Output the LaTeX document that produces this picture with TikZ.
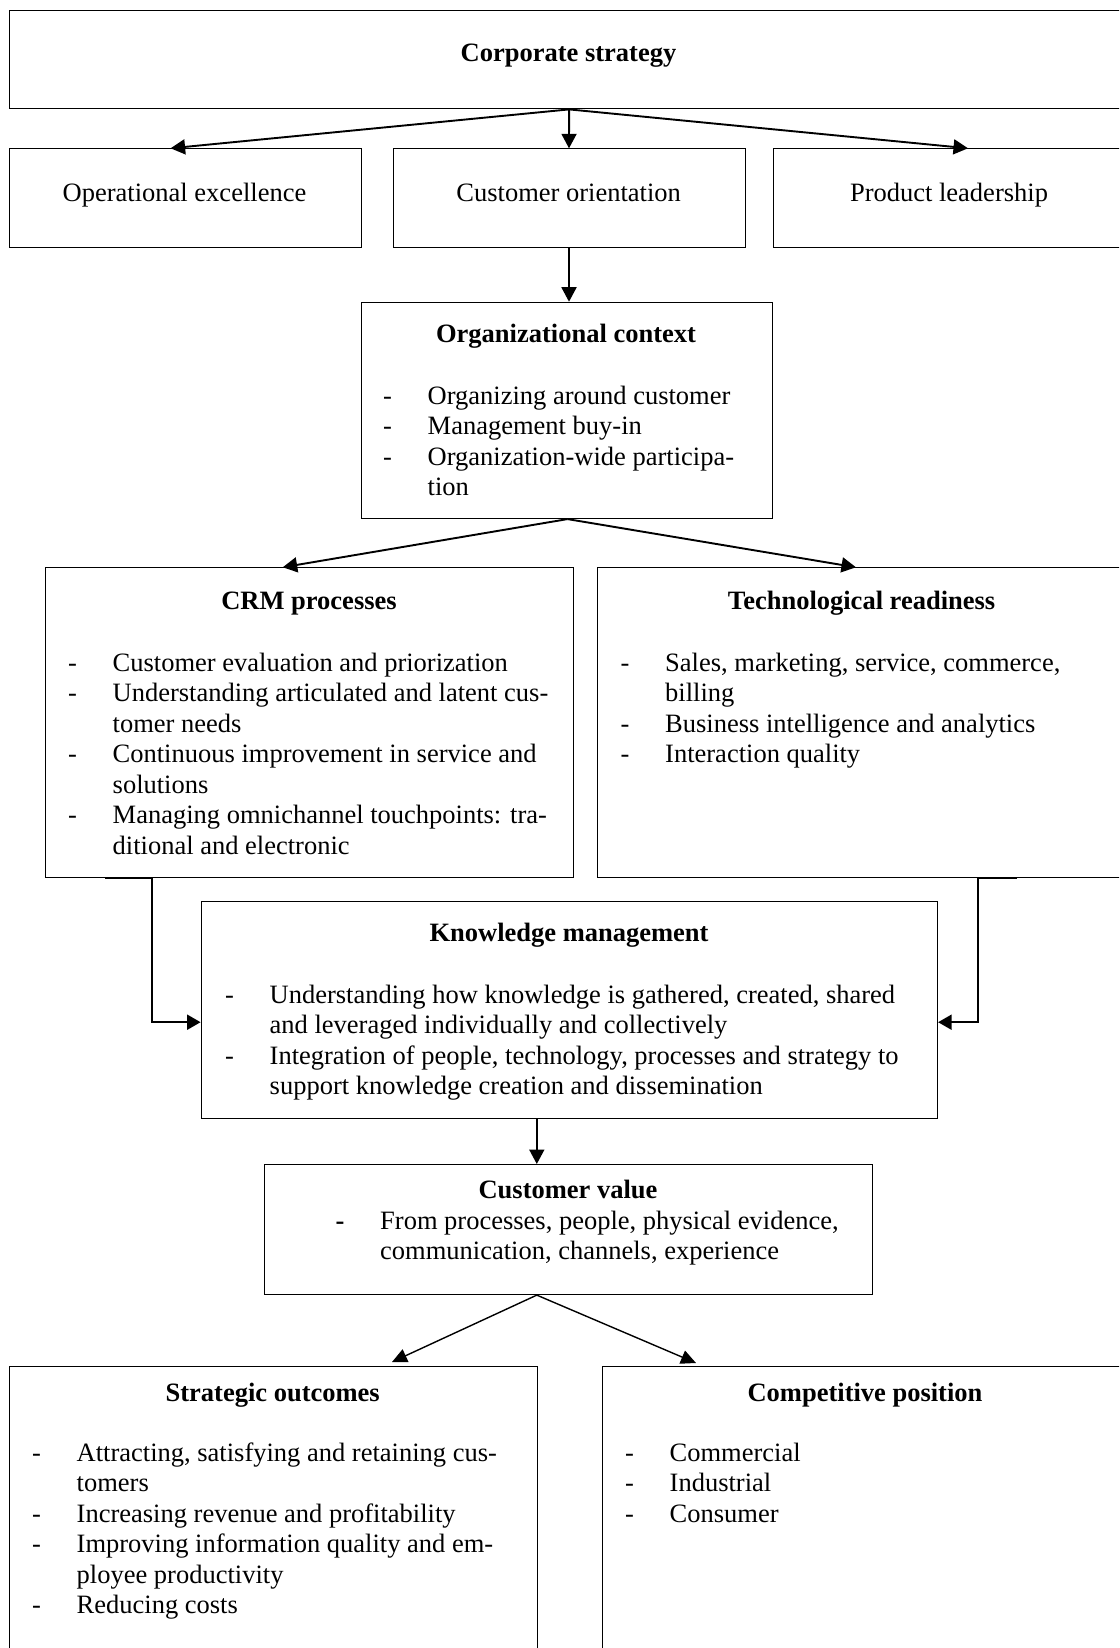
\documentclass[tikz,border=0pt]{standalone}
\usepackage{fontspec}
\setmainfont{Liberation Serif}
\usetikzlibrary{arrows.meta,calc}
\newcommand{\lst}[1]{\begin{tabular}[t]{@{}p{44.5pt}@{}l@{}}#1\end{tabular}}
\begin{document}
\fontsize{26.5}{30.5}\selectfont
\begin{tikzpicture}[x=1pt,y=-1pt,
  box/.style={draw, line width=1.1pt, anchor=north west, inner sep=0pt, rectangle},
  ttl/.style={anchor=base, inner sep=0pt, font=\bfseries},
  txt/.style={anchor=base, inner sep=0pt},
  items/.style={anchor=base west, inner sep=0pt},
  arr/.style={line width=1.9pt, -{Triangle[length=14.5pt,width=15pt]}},
  arrb/.style={line width=1.4pt, -{Triangle[length=15pt,width=14pt]}},
  elbow/.style={line width=1.9pt, -{Triangle[length=13.5pt,width=15pt]}}
]
\useasboundingbox (0,0) rectangle (1119,1648);
\clip (0,0) rectangle (1119,1648);

% boxes
\node[box, minimum width=1120pt, minimum height=98.3pt] (cs) at (8.6,10) {};
\node[box, minimum width=352pt, minimum height=98.4pt] (oe) at (8.6,148.3) {};
\node[box, minimum width=351.5pt, minimum height=98.4pt] (co) at (393,148.3) {};
\node[box, minimum width=352pt, minimum height=98.4pt] (pl) at (773,148.3) {};
\node[box, minimum width=411pt, minimum height=216.3pt] (oc) at (360.5,301.7) {};
\node[box, minimum width=528pt, minimum height=310pt] (crm) at (45,567.3) {};
\node[box, minimum width=531pt, minimum height=310pt] (tr) at (596.7,567.3) {};
\node[box, minimum width=736.4pt, minimum height=217pt] (km) at (200.6,900.7) {};
\node[box, minimum width=608.2pt, minimum height=130pt] (cv) at (264,1164) {};
\node[box, minimum width=528.2pt, minimum height=300pt] (so) at (8.6,1366) {};
\node[box, minimum width=527pt, minimum height=300pt] (cp) at (601.7,1366) {};

% texts
\node[ttl] (cst) at (568.5,62) {Corporate strategy};
\node[txt] (oet) at (184.5,201.7) {Operational excellence};
\node[txt] (cot) at (568.7,201.7) {Customer orientation};
\node[txt] (plt) at (949,201.7) {Product leadership};

\node[ttl] (oct) at (566,342.7) {Organizational context};
\node[items] (oci) at (383,404) {\lst{- & Organizing around customer\\
- & Management buy-in\\
- & Organization-wide participa-\\
 & tion}};

\node[ttl] (crmt) at (309,609) {CRM processes};
\node[items] (crmi) at (68,671) {\lst{- & Customer evaluation and priorization\\
- & Understanding articulated and latent cus-\\
 & tomer needs\\
- & Continuous improvement in service and\\
 & solutions\\
- & Managing omnichannel touchpoints: tra-\\
 & ditional and electronic}};

\node[ttl] (trt) at (861.6,609) {Technological readiness};
\node[items] (tri) at (620.5,671) {\lst{- & Sales, marketing, service, commerce,\\
 & billing\\
- & Business intelligence and analytics\\
- & Interaction quality}};

\node[ttl] (kmt) at (569,941.7) {Knowledge management};
\node[items] (kmi) at (225,1003.3) {\lst{- & Understanding how knowledge is gathered, created, shared\\
 & and leveraged individually and collectively\\
- & Integration of people, technology, processes and strategy to\\
 & support knowledge creation and dissemination}};

\node[ttl] (cvt) at (568,1198.3) {Customer value};
\node[items] (cvi) at (335.5,1229) {\lst{\textbf{-} & From processes, people, physical evidence,\\
 & communication, channels, experience}};

\node[ttl] (sot) at (272.7,1401.7) {Strategic outcomes};
\node[items] (soi) at (32,1461) {\lst{- & Attracting, satisfying and retaining cus-\\
 & tomers\\
- & Increasing revenue and profitability\\
- & Improving information quality and em-\\
 & ployee productivity\\
- & Reducing costs}};

\node[ttl] (cpt) at (865,1401.7) {Competitive position};
\node[items] (cpi) at (625,1461) {\lst{- & Commercial\\
- & Industrial\\
- & Consumer}};

% connectors
\draw[arr] ($(cs.south west)+(560.5,0)$) -- ($(oe.north west)+(162,0)$);
\draw[arr] ($(cs.south west)+(560.5,0)$) -- ($(co.north west)+(176,0)$);
\draw[arr] ($(cs.south west)+(560.5,0)$) -- ($(pl.north west)+(195,0)$);
\draw[arr] ($(co.south west)+(176,0)$) -- ($(oc.north west)+(208.5,0)$);
\draw[arr] ($(oc.south west)+(207,0)$) -- ($(crm.north west)+(237.7,0)$);
\draw[arr] ($(oc.south west)+(207,0)$) -- ($(tr.north west)+(259.3,0)$);
\draw[elbow] ($(crm.south west)+(60,0)$) -- ($(crm.south west)+(107,0)$) |- ($(km.north west)+(0,121.5)$);
\draw[elbow] ($(tr.south west)+(420.3,0)$) -- ($(tr.south west)+(381.3,0)$) |- ($(km.north east)+(0,121.5)$);
\draw[arr] ($(km.south west)+(336.2,0)$) -- ($(cv.north west)+(272.8,0)$);
\draw[arrb] ($(cv.south west)+(272.8,0)$) -- ($(so.north west)+(383.4,-4)$);
\draw[arrb] ($(cv.south west)+(272.8,0)$) -- ($(cp.north west)+(94.3,-3)$);
\end{tikzpicture}
\end{document}
